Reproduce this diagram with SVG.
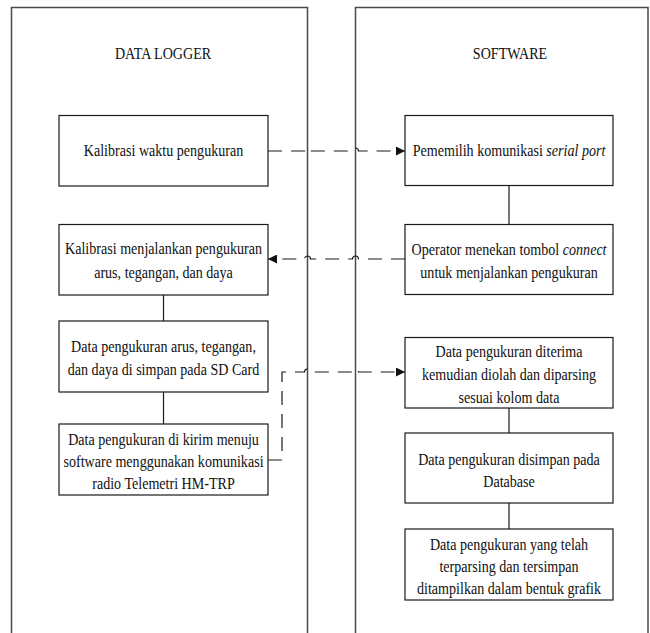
<svg xmlns="http://www.w3.org/2000/svg" width="650" height="633" viewBox="0 0 650 633">
  <style>
    .lane { fill: none; stroke: #4a4a4a; stroke-width: 1.5; }
    .box { fill: #ffffff; stroke: #1a1a1a; stroke-width: 1.2; }
    .link { fill: none; stroke: #1a1a1a; stroke-width: 1.2; }
    .dash { fill: none; stroke: #1a1a1a; stroke-width: 1.2; stroke-dasharray: 14 9; }
    text { font-family: "Liberation Serif", "Times New Roman", serif; font-size: 16px; fill: #111111; text-anchor: middle; }
    .t { transform-box: fill-box; transform-origin: center; transform: scaleX(0.88); }
    .i { font-style: italic; }
  </style>
  <defs>
    <marker id="arrow" viewBox="0 0 10 10" refX="10" refY="5" markerWidth="9" markerHeight="9" markerUnits="userSpaceOnUse" orient="auto">
      <path d="M0,0 L10,5 L0,10 Z" fill="#111111"/>
    </marker>
  </defs>
  <rect width="650" height="633" fill="#ffffff"/>

  <!-- swimlanes -->
  <g id="lane-datalogger">
    <path class="lane" d="M11.5,640 V7.5 H307.5 V640"/>
    <text class="t" x="163" y="59">DATA LOGGER</text>
  </g>
  <g id="lane-software">
    <path class="lane" d="M355.5,640 V7.5 H648 V640"/>
    <text class="t" x="510" y="59">SOFTWARE</text>
  </g>

  <!-- connectors -->
  <g id="connectors">
    <line class="link" x1="163.5" y1="295" x2="163.5" y2="321"/>
    <line class="link" x1="163.5" y1="392" x2="163.5" y2="424"/>
    <line class="link" x1="509" y1="185" x2="509" y2="224"/>
    <line class="link" x1="509" y1="408" x2="509" y2="433"/>
    <line class="link" x1="509" y1="503" x2="509" y2="529"/>
    <path class="dash" d="M268,151 H304.5 a3,3 0 0 1 6,0 H352.5 a3,3 0 0 1 6,0 H405" marker-end="url(#arrow)"/>
    <path class="dash" d="M405,259 H358.5 a3,3 0 0 0 -6,0 H310.5 a3,3 0 0 0 -6,0 H268" marker-end="url(#arrow)"/>
    <path class="dash" d="M268,460 H282 V372 H304.5 a3,3 0 0 1 6,0 H352.5 a3,3 0 0 1 6,0 H405" marker-end="url(#arrow)"/>
  </g>

  <!-- data logger steps -->
  <g id="kalibrasi-waktu">
    <rect class="box" x="59" y="115.5" width="209" height="70.5"/>
    <text class="t" x="163.5" y="156">Kalibrasi waktu pengukuran</text>
  </g>
  <g id="kalibrasi-menjalankan">
    <rect class="box" x="59" y="224.5" width="209" height="70.5"/>
    <text class="t" x="163.5" y="254">Kalibrasi menjalankan pengukuran</text>
    <text class="t" x="163.5" y="278">arus, tegangan, dan daya</text>
  </g>
  <g id="simpan-sdcard">
    <rect class="box" x="59" y="321" width="209" height="71"/>
    <text class="t" x="163.5" y="352">Data pengukuran arus, tegangan,</text>
    <text class="t" x="163.5" y="375">dan daya di simpan pada SD Card</text>
  </g>
  <g id="kirim-telemetri">
    <rect class="box" x="59" y="424" width="209" height="71"/>
    <text class="t" x="163.5" y="445">Data pengukuran di kirim menuju</text>
    <text class="t" x="163.5" y="467">software menggunakan komunikasi</text>
    <text class="t" x="163.5" y="489">radio Telemetri HM-TRP</text>
  </g>

  <!-- software steps -->
  <g id="pilih-serial">
    <rect class="box" x="405" y="115.5" width="208" height="70"/>
    <text class="t" x="509" y="156">Pememilih komunikasi <tspan class="i">serial port</tspan></text>
  </g>
  <g id="tombol-connect">
    <rect class="box" x="405" y="224.5" width="208" height="70"/>
    <text class="t" x="509" y="255">Operator menekan tombol <tspan class="i">connect</tspan></text>
    <text class="t" x="509" y="278">untuk menjalankan pengukuran</text>
  </g>
  <g id="parsing">
    <rect class="box" x="405" y="337.5" width="208" height="70.5"/>
    <text class="t" x="509" y="357">Data pengukuran diterima</text>
    <text class="t" x="509" y="380">kemudian diolah dan diparsing</text>
    <text class="t" x="509" y="403">sesuai kolom data</text>
  </g>
  <g id="simpan-database">
    <rect class="box" x="405" y="433" width="208" height="70"/>
    <text class="t" x="509" y="465">Data pengukuran disimpan pada</text>
    <text class="t" x="509" y="487">Database</text>
  </g>
  <g id="tampil-grafik">
    <rect class="box" x="405" y="529" width="208" height="71"/>
    <text class="t" x="509" y="550">Data pengukuran yang telah</text>
    <text class="t" x="509" y="572">terparsing dan tersimpan</text>
    <text class="t" x="509" y="594">ditampilkan dalam bentuk grafik</text>
  </g>
</svg>
